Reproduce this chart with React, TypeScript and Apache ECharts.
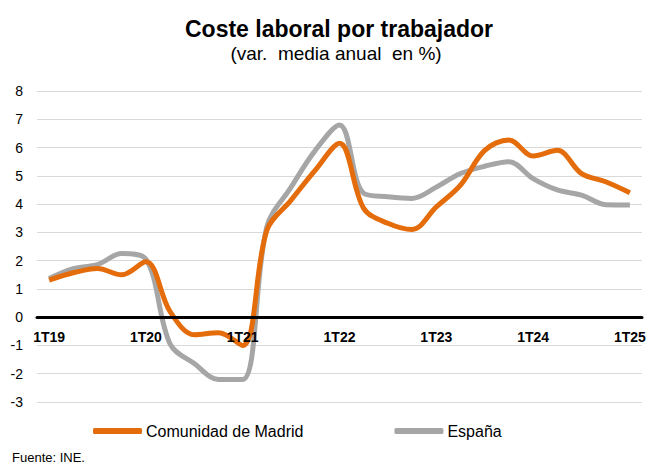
import React, { useEffect, useRef } from "react";
import * as echarts from "echarts";

const categories = [
  "1T19", "2T19", "3T19", "4T19",
  "1T20", "2T20", "3T20", "4T20",
  "1T21", "2T21", "3T21", "4T21",
  "1T22", "2T22", "3T22", "4T22",
  "1T23", "2T23", "3T23", "4T23",
  "1T24", "2T24", "3T24", "4T24",
  "1T25",
];
const madrid = [1.31, 1.57, 1.72, 1.5, 1.96, 0.2, -0.62, -0.55, -1.0, 3.08, 4.14, 5.2, 6.15, 3.85, 3.32, 3.1, 3.9, 4.67, 5.9, 6.27, 5.7, 5.9, 5.08, 4.79, 4.4];
const espana = [1.37, 1.72, 1.86, 2.25, 2.05, -0.95, -1.64, -2.2, -2.2, 3.2, 4.6, 5.9, 6.8, 4.38, 4.26, 4.2, 4.6, 5.08, 5.34, 5.5, 4.9, 4.5, 4.32, 3.98, 3.97];

const FONT = "Liberation Sans, Arial, sans-serif";

export default function App() {
  const ref = useRef<HTMLDivElement>(null);
  useEffect(() => {
    if (!ref.current) return;
    const chart = echarts.init(ref.current, null, { renderer: "svg" });
    chart.setOption({
      animation: false,
      textStyle: { fontFamily: FONT },
      title: [
        {
          text: "Coste laboral por trabajador",
          left: 334,
          textAlign: "center",
          top: 12,
          textStyle: { fontSize: 23, fontWeight: "bold", color: "#000", fontFamily: FONT },
        },
        {
          text: "(var.  media anual  en %)",
          left: 331,
          textAlign: "center",
          top: 39,
          textStyle: { fontSize: 19, fontWeight: "normal", color: "#000", fontFamily: FONT },
        },
        {
          text: "Fuente: INE.",
          left: 12,
          top: 450,
          padding: 0,
          textStyle: { fontSize: 13, lineHeight: 14, fontWeight: "normal", color: "#000", fontFamily: FONT },
        },
      ],
      legend: {
        left: 88,
        top: 418,
        itemWidth: 49,
        itemHeight: 6,
        itemGap: 91,
        icon: "roundRect",
        textStyle: { fontSize: 16, color: "#000", fontFamily: FONT, padding: [0, 0, 0, -1] },
        data: ["Comunidad de Madrid", "España"],
      },
      grid: { left: 37, right: 7, top: 91, bottom: 64 },
      xAxis: {
        type: "category",
        data: categories,
        boundaryGap: true,
        z: 4,
        axisLine: { onZero: true, lineStyle: { color: "#000", width: 3 } },
        axisTick: { show: false },
        axisLabel: {
          interval: 3,
          margin: -72,
          fontSize: 14,
          fontWeight: "bold",
          color: "#000",
          fontFamily: FONT,
        },
        splitLine: { show: false },
      },
      yAxis: {
        type: "value",
        min: -3,
        max: 8,
        interval: 1,
        axisLine: { show: false },
        axisTick: { show: false },
        axisLabel: { margin: 14, fontSize: 14, color: "#000", fontFamily: FONT },
        splitLine: { lineStyle: { color: "#D9D9D9", width: 1 } },
      },
      series: [
        {
          name: "Comunidad de Madrid",
          type: "line",
          data: madrid,
          smooth: 0.35,
          showSymbol: false,
          symbol: "none",
          lineStyle: { color: "#E46C0A", width: 5 },
          itemStyle: { color: "#E46C0A" },
          z: 3,
        },
        {
          name: "España",
          type: "line",
          data: espana,
          smooth: 0.35,
          showSymbol: false,
          symbol: "none",
          lineStyle: { color: "#A6A6A6", width: 5 },
          itemStyle: { color: "#A6A6A6" },
          z: 2,
        },
      ],
    });
    return () => chart.dispose();
  }, []);
  return <div ref={ref} style={{ width: 649, height: 466, position: "absolute", left: 0, top: 0 }} />;
}
